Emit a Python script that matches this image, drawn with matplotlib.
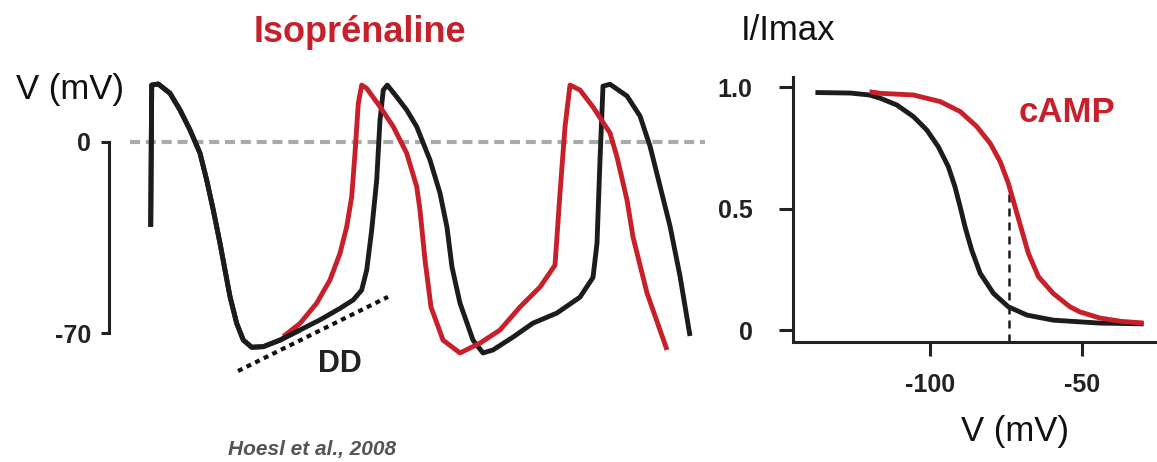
import matplotlib
matplotlib.use('Agg')
import matplotlib.pyplot as plt

plt.rcParams['font.family'] = ['Liberation Sans', 'DejaVu Sans']
plt.rcParams['axes.unicode_minus'] = False

# --- action potentials (time a.u., membrane potential mV) ---
t_ctrl = [41.7, 42.7, 49.3, 61, 71, 81, 91, 97.7, 104.3, 111, 116, 121, 127.7, 134.3, 142.7,
          154.3, 171, 191, 211, 231, 244.3, 252.7, 257.7, 262.7, 267.7, 271, 274.3, 278.3,
          287.7, 297.7, 307.7, 321, 331, 338, 343, 351, 364, 374, 384, 404, 424, 448, 471,
          484, 488, 491, 494, 501, 518, 531, 541, 551, 561, 571, 581]
v_ctrl = [-31.1, 20.7, 21.1, 17.7, 11.6, 4.3, -4.2, -14.0, -25.0, -37.1, -46.9, -56.6, -66.4,
          -72.5, -75.1, -74.9, -72.5, -68.8, -65.1, -60.9, -57.8, -54.2, -46.9, -32.3, -14.0,
          7.9, 18.9, 20.7, 16.4, 11.6, 5.5, -6.7, -18.8, -31.3, -45.8, -59.0, -72.5, -77.2,
          -76.1, -71.4, -66.3, -62.6, -56.8, -49.6, -37.1, -6.7, 20.3, 21.0, 16.7, 9.4, -1.6,
          -16.2, -30.8, -49.1, -71.0]

t_iso = [174.3, 191, 207.7, 221, 231, 237.7, 242.7, 246, 249.3, 252.7, 257.7, 271, 284.3,
         297.7, 307.7, 311, 316, 322, 334, 351, 371, 391, 411, 431, 446, 451, 456, 461, 471,
         484, 501, 508, 518, 524, 538, 558]
v_iso = [-71.2, -66.4, -59.0, -50.5, -40.8, -31.1, -20.1, -4.2, 14.0, 20.7, 19.5, 12.8, 5.5,
         -4.2, -16.4, -25.0, -43.2, -60.4, -72.5, -77.2, -73.6, -68.8, -60.4, -53.1, -45.1,
         -18.8, 5.4, 20.7, 18.9, 12.7, 3.2, -5.6, -21.3, -34.8, -55.3, -76.1]

dd_t = [129, 279]
dd_v = [-83.8, -56.7]

# --- activation curves (V mV, I/Imax) ---
v_act_ctrl = [-137.0, -126.3, -120.0, -116.5, -111.0, -105.5, -101.1, -97.3, -94.0, -91.8,
              -90.1, -88.5, -86.3, -83.5, -79.1, -74.2, -68.1, -59.4, -50.6, -44.1, -30.4]
i_act_ctrl = [0.978, 0.976, 0.968, 0.955, 0.927, 0.879, 0.824, 0.755, 0.673, 0.590,
              0.508, 0.426, 0.330, 0.234, 0.151, 0.096, 0.062, 0.041, 0.034, 0.029, 0.026]
v_act_camp = [-119.2, -116.5, -105.5, -96.7, -90.1, -84.6, -80.2, -76.9, -74.2, -72.0,
              -69.8, -67.6, -64.3, -59.4, -53.9, -50.6, -44.1, -37.0, -30.4]
i_act_camp = [0.980, 0.975, 0.968, 0.941, 0.900, 0.838, 0.769, 0.694, 0.604, 0.508,
              0.412, 0.316, 0.220, 0.151, 0.096, 0.075, 0.050, 0.036, 0.030]
v_mark = -74.0
i_mark = 0.60

RED = '#c8202a'
BLACK = '#1c1c1c'
W, H = 1157, 462


def px(x, y):
    return x / W, 1 - y / H


fig = plt.figure(figsize=(W / 100, H / 100), dpi=100)

# left panel
ax1 = fig.add_axes([109 / W, 0.1602, 611 / W, 0.6811])
ax1.set_xlim(0, 611)
ax1.set_ylim(-90, 25)
ax1.plot([21, 596], [0, 0], color='#aaaaaa', lw=3, dashes=(2.4, 1.4))
ax1.plot(t_ctrl, v_ctrl, color=BLACK, lw=3.5, solid_joinstyle='round', solid_capstyle='butt')
ax1.plot(t_iso, v_iso, color=RED, lw=3.5, solid_joinstyle='round', solid_capstyle='butt')
ax1.plot(t_ctrl[:18], v_ctrl[:18], color=BLACK, lw=3.5, solid_joinstyle='round',
         solid_capstyle='butt')
ax1.plot(dd_t, dd_v, color='#111111', lw=3, dashes=(1.2, 1.1))
ax1.text(231, -81.2, 'DD', fontsize=22, fontweight='bold', color='#222222',
         ha='center', va='center')
for s in ['top', 'right', 'bottom']:
    ax1.spines[s].set_visible(False)
ax1.spines['left'].set_bounds(-70, 0)
ax1.spines['left'].set_linewidth(2.2)
ax1.spines['left'].set_color('#222222')
ax1.set_xticks([])
ax1.set_yticks([0, -70])
ax1.set_yticklabels(['0', '-70'], fontsize=18, fontweight='bold', color='#222222')
ax1.tick_params(axis='y', direction='out', length=6, width=2.2, color='#222222', pad=7)

# right panel
ax2 = fig.add_axes([793 / W, 0.2597, 364 / W, 0.5736])
ax2.set_xlim(-145.2, -25.2)
ax2.set_ylim(-0.049, 1.042)
ax2.plot([v_mark, v_mark], [-0.049, i_mark], color=BLACK, lw=1.8, dashes=(3.2, 2.4))
ax2.plot(v_act_ctrl, i_act_ctrl, color=BLACK, lw=3.5, solid_joinstyle='round')
ax2.plot(v_act_camp, i_act_camp, color=RED, lw=3.5, solid_joinstyle='round')
ax2.text(-54.8, 0.894, 'cAMP', fontsize=25, fontweight='bold', color=RED,
         ha='center', va='center')
for s in ['top', 'right']:
    ax2.spines[s].set_visible(False)
for s in ['left', 'bottom']:
    ax2.spines[s].set_linewidth(2.2)
    ax2.spines[s].set_color('#222222')
ax2.set_xticks([-100, -50])
ax2.set_xticklabels(['-100', '-50'], fontsize=18, fontweight='bold', color='#222222')
ax2.set_yticks([0, 0.5, 1.0])
ax2.set_yticklabels(['0', '0.5', '1.0'], fontsize=18, fontweight='bold', color='#222222')
ax2.tick_params(direction='out', length=10, width=2.2, color='#222222')
ax2.tick_params(axis='y', pad=19)
ax2.tick_params(axis='x', pad=12)

# labels
fig.text(*px(360, 33), 'Isoprénaline', fontsize=26, fontweight='bold', color=RED,
         ha='center', va='center')
fig.text(*px(70, 90), 'V (mV)', fontsize=25, color='#111111', ha='center', va='center')
fig.text(*px(788, 30), 'I/Imax', fontsize=25, color='#111111', ha='center', va='center')
fig.text(*px(1015, 432), 'V (mV)', fontsize=25, color='#111111', ha='center', va='center')
fig.text(*px(228, 459), 'Hoesl et al., 2008', fontsize=15, fontstyle='italic',
         fontweight='bold', color='#555555', ha='left', va='bottom')

fig.savefig('out.png', dpi=100)
